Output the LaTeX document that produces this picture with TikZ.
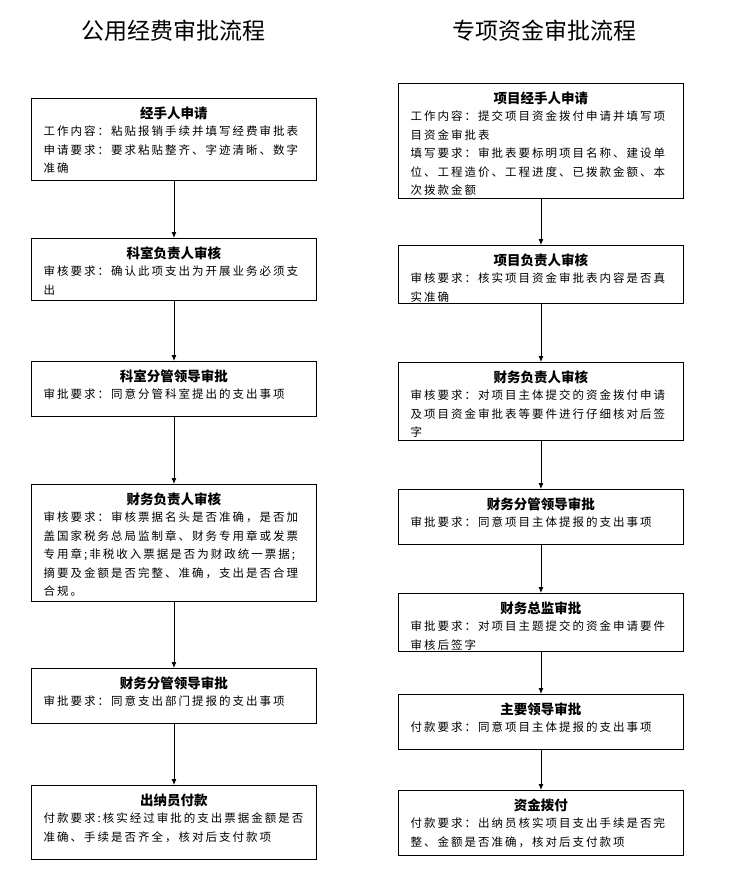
\documentclass[tikz,border=0pt]{standalone}
\usepackage{fontspec}
\usetikzlibrary{arrows.meta}
\newfontfamily\cjk{Noto Sans CJK SC}
\newfontfamily\cjkbody{Noto Sans CJK SC}[LetterSpace=17.4]
\newcommand\flowstep[6]{%
  \pgfmathsetmacro\fh{#4-#3}%
  \node[box, minimum height=\fh pt] (#1) at (#2,#3) {};
  \node[ttl] (#1t) at ([yshift=-20pt]#1.north) {#5};
  \node[body] (#1b) at ([xshift=12.5pt,yshift=-26.4pt]#1.north west) {\rule{0pt}{11pt}#6};
}
\begin{document}
\begin{tikzpicture}[x=1pt,y=-1pt,
  box/.style={draw, line width=0.9pt, minimum width=285pt, inner sep=0pt, anchor=north west},
  ttl/.style={font=\cjk\bfseries\fontsize{13.5}{16}\selectfont, anchor=base, inner sep=0pt},
  body/.style={font=\cjkbody\fontsize{11.5}{18.5}\selectfont, align=left, anchor=north west, inner sep=0pt},
  arr/.style={-{Latex[length=6pt,width=5pt]}, line width=0.8pt},
  head/.style={font=\cjk\fontsize{23}{26}\selectfont, inner sep=0pt}]
\fill[white] (0,0) rectangle (735,886);
\useasboundingbox (0,0) rectangle (735,886);
\node[head] (h1) at (173,31) {公用经费审批流程};
\node[head] (h2) at (544,31) {专项资金审批流程};
% left column
\flowstep{L1}{31}{98}{180}{经手人申请}{工作内容：粘贴报销手续并填写经费审批表\\申请要求：要求粘贴整齐、字迹清晰、数字\\准确}
\flowstep{L2}{31}{238}{300}{科室负责人审核}{审核要求：确认此项支出为开展业务必须支\\出}
\flowstep{L3}{31}{361}{416}{科室分管领导审批}{审批要求：同意分管科室提出的支出事项}
\flowstep{L4}{31}{484}{601}{财务负责人审核}{审核要求：审核票据名头是否准确，是否加\\盖国家税务总局监制章、财务专用章或发票\\专用章;非税收入票据是否为财政统一票据;\\摘要及金额是否完整、准确，支出是否合理\\合规。}
\flowstep{L5}{31}{668}{723}{财务分管领导审批}{审批要求：同意支出部门提报的支出事项}
\flowstep{L6}{31}{785}{859}{出纳员付款}{付款要求:核实经过审批的支出票据金额是否\\准确、手续是否齐全，核对后支付款项}
% right column
\flowstep{R1}{398}{83}{198}{项目经手人申请}{工作内容：提交项目资金拨付申请并填写项\\目资金审批表\\填写要求：审批表要标明项目名称、建设单\\位、工程造价、工程进度、已拨款金额、本\\次拨款金额}
\flowstep{R2}{398}{245}{303}{项目负责人审核}{审核要求：核实项目资金审批表内容是否真\\实准确}
\flowstep{R3}{398}{362}{440}{财务负责人审核}{审核要求：对项目主体提交的资金拨付申请\\及项目资金审批表等要件进行仔细核对后签\\字}
\flowstep{R4}{398}{489}{544}{财务分管领导审批}{审批要求：同意项目主体提报的支出事项}
\flowstep{R5}{398}{593}{651}{财务总监审批}{审批要求：对项目主题提交的资金申请要件\\审核后签字}
\flowstep{R6}{398}{694}{749}{主要领导审批}{付款要求：同意项目主体提报的支出事项}
\flowstep{R7}{398}{790}{855}{资金拨付}{付款要求：出纳员核实项目支出手续是否完\\整、金额是否准确，核对后支付款项}
% arrows
\draw[arr] (L1.south) -- (L2.north);
\draw[arr] (L2.south) -- (L3.north);
\draw[arr] (L3.south) -- (L4.north);
\draw[arr] (L4.south) -- (L5.north);
\draw[arr] (L5.south) -- (L6.north);
\draw[arr] (R1.south) -- (R2.north);
\draw[arr] (R2.south) -- (R3.north);
\draw[arr] (R3.south) -- (R4.north);
\draw[arr] (R4.south) -- (R5.north);
\draw[arr] (R5.south) -- (R6.north);
\draw[arr] (R6.south) -- (R7.north);
\end{tikzpicture}
\end{document}
